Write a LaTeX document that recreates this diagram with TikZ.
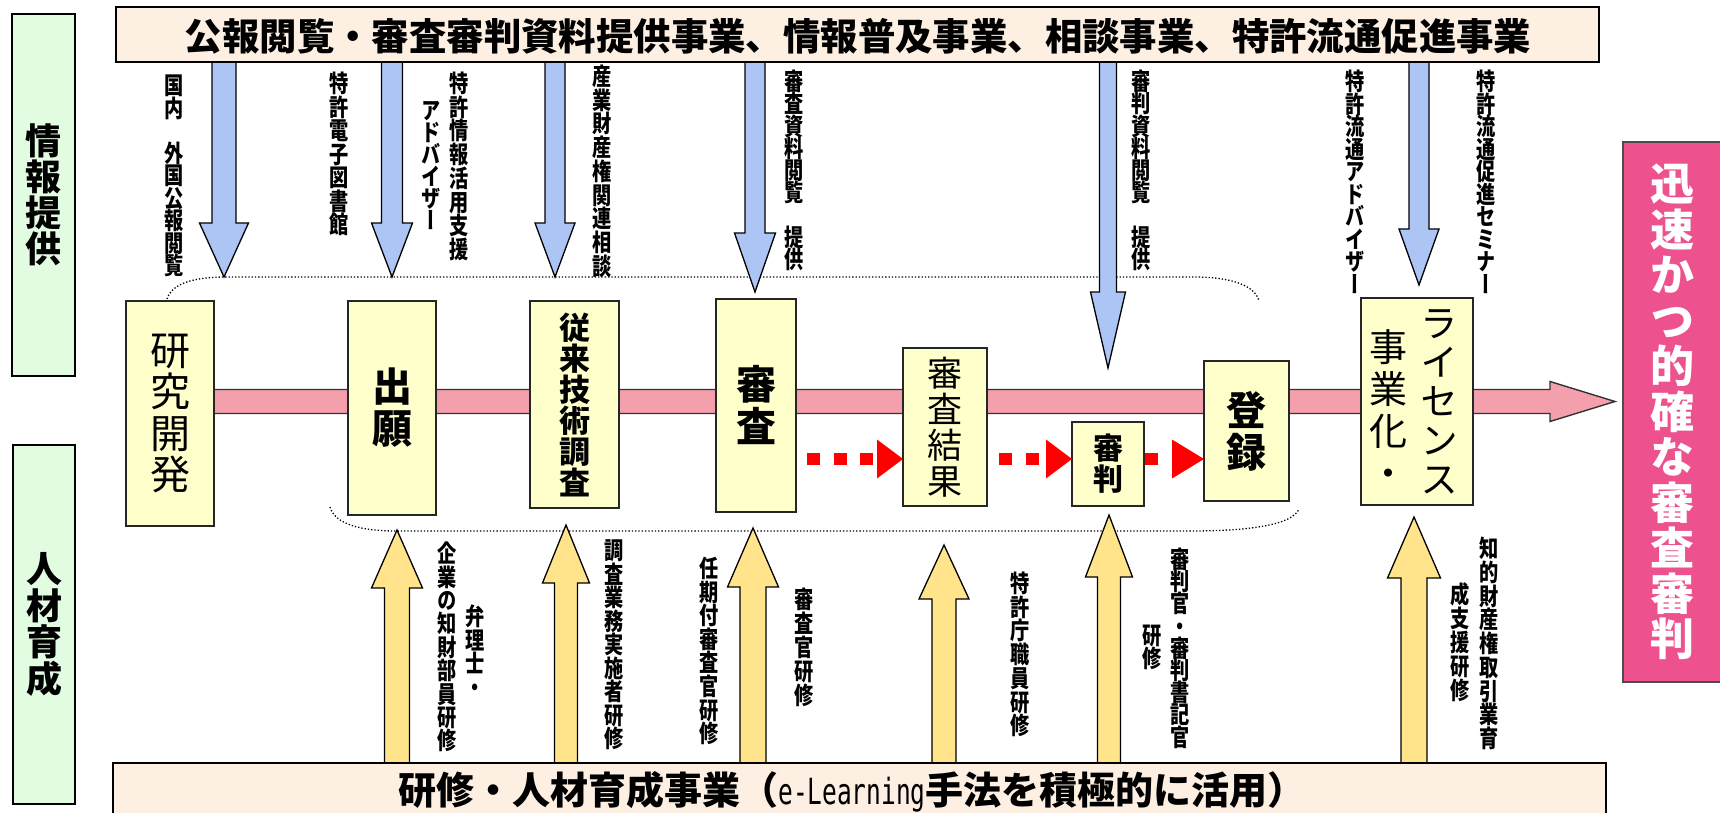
\documentclass[tikz,border=0pt]{standalone}
\usepackage{fontspec}
\setmainfont{Noto Sans CJK JP}
\newfontfamily\jpv{Noto Sans CJK JP}[RawFeature=+vert]
\newfontfamily\jpvc{Noto Sans CJK JP}[RawFeature=+vert, FakeStretch=0.8]
\newfontfamily\monof{DejaVu Sans Mono}[FakeStretch=0.68]
\usetikzlibrary{arrows.meta,calc}
\definecolor{gfill}{RGB}{226,252,226}
\definecolor{bfill}{RGB}{253,239,226}
\definecolor{pfill}{RGB}{255,255,204}
\definecolor{bluef}{RGB}{172,197,245}
\definecolor{yelf}{RGB}{255,228,140}
\definecolor{mainf}{RGB}{243,160,172}
\definecolor{pinkf}{RGB}{238,82,142}
\definecolor{reddash}{RGB}{255,0,0}
\ExplSyntaxOn
\NewDocumentCommand\vstk{mm}{
  \vbox{\baselineskip=#1\lineskiplimit=-\maxdimen\lineskip=0pt
    \tl_map_inline:nn{#2}{\hbox_to_wd:nn{1em}{\hss##1\hss}}}}
\ExplSyntaxOff
\newcommand\blkdn[6]{\filldraw[bluearr] (#1-#2,#4) -- (#1-#2,#5) -- (#1-#3,#5) -- (#1,#6) -- (#1+#3,#5) -- (#1+#2,#5) -- (#1+#2,#4) -- cycle;}
\newcommand\blkup[6]{\filldraw[yelarr] (#1-#2,#6) -- (#1-#2,#5) -- (#1-#3,#5) -- (#1,#4) -- (#1+#3,#5) -- (#1+#2,#5) -- (#1+#2,#6) -- cycle;}
\tikzset{
  every node/.style={inner sep=0pt, outer sep=0pt},
  gbox/.style={draw=black, line width=1.6pt, fill=gfill},
  banner/.style={draw=black, line width=1.8pt, fill=bfill},
  pbox/.style={draw=black!85, line width=1.6pt, fill=pfill},
  pinkbox/.style={draw=black!70, line width=1.4pt, fill=pinkf},
  vlab/.style={anchor=north, font=\jpvc\bfseries\fontsize{24}{24}\selectfont},
  bluearr/.style={draw=black, line width=1.3pt, fill=bluef, line join=miter},
  yelarr/.style={draw=black, line width=1.3pt, fill=yelf, line join=miter},
  mainarr/.style={draw=black!80, line width=1.4pt, fill=mainf, line join=miter},
  dotline/.style={dotted, line width=1.3pt},
  redd/.style={draw=reddash, line width=12pt, -{Triangle[length=26pt,width=39pt,line width=0pt]}},
}
\begin{document}
\begin{tikzpicture}[x=1pt,y=-1pt]
\useasboundingbox (0,0) rectangle (1720,813);

% brace-like dotted curves
\draw[dotline] (167,299) .. controls (172,283) and (195,277) .. (226,277) -- (1194,277) .. controls (1230,277) and (1255,285) .. (1259,301);
\draw[dotline] (330,507) .. controls (335,524) and (360,531) .. (397,531) -- (1190,531) .. controls (1250,531) and (1292,525) .. (1299,509);

% main flow arrow
\filldraw[mainarr] (175,389.5) -- (1550,389.5) -- (1550,381.5) -- (1615,401.5) -- (1550,421.5) -- (1550,413.5) -- (175,413.5) -- cycle;

% process boxes
\node[pbox, minimum width=88, minimum height=225, font=\jpv\fontsize{40}{40}\selectfont] (kenkyu) at (170,413.5) {\vstk{41.5pt}{研究開発}};
\node[pbox, minimum width=88, minimum height=214, font=\jpv\bfseries\fontsize{40}{40}\selectfont] (shutsugan) at (392,408) {\vstk{42pt}{出願}};
\node[pbox, minimum width=89, minimum height=207, font=\jpv\bfseries\fontsize{31}{31}\selectfont] (chosa) at (574.5,404.5) {\vstk{31pt}{従来技術調査}};
\node[pbox, minimum width=80, minimum height=213, font=\jpv\bfseries\fontsize{40}{40}\selectfont] (shinsa) at (756,405.5) {\vstk{42pt}{審査}};
\node[pbox, minimum width=84, minimum height=158, font=\jpv\fontsize{35}{35}\selectfont] (kekka) at (945,427) {\vstk{36pt}{審査結果}};
\node[pbox, minimum width=72, minimum height=84, font=\jpv\bfseries\fontsize{30}{30}\selectfont] (shinpan) at (1108,464) {\vstk{31pt}{審判}};
\node[pbox, minimum width=85, minimum height=140, font=\jpv\bfseries\fontsize{40}{40}\selectfont] (toroku) at (1246.5,431) {\vstk{42pt}{登録}};
\node[pbox, minimum width=112, minimum height=207] (lic) at (1417,401.5) {};
\node[anchor=north, font=\jpv\fontsize{38}{38}\selectfont] (licr) at (1439,310) {\vstk{39pt}{ライセンス}};
\node[anchor=north, font=\jpv\fontsize{38}{38}\selectfont] (licl) at (1388,330) {\vstk{42pt}{事業化・}};

% red dotted arrows
\draw[redd, dash pattern=on 13pt off 13.5pt] ($(shinsa.east|-0,459)+(11,0)$) -- (kekka.west|-0,459);
\draw[redd, dash pattern=on 13pt off 13.5pt] ($(kekka.east|-0,459)+(12,0)$) -- (shinpan.west|-0,459);
\draw[redd, dash pattern=on 13pt off 15pt, -{Triangle[length=32pt,width=39pt,line width=0pt]}] ($(shinpan.east|-0,459)+(1,0)$) -- (toroku.west|-0,459);

% top (information) arrows
\blkdn{224}{12}{24.5}{62}{223}{277}
\blkdn{392}{10.5}{20.5}{62}{223}{277}
\blkdn{555}{10}{20}{62}{223}{277}
\blkdn{755}{10}{20.5}{62}{233}{292}
\blkdn{1108}{8.5}{17.5}{62}{292}{368}
\blkdn{1419}{10}{20}{62}{229}{285}

% bottom (training) arrows
\blkup{397}{12.5}{25.5}{530}{588}{764}
\blkup{566}{11.5}{23.5}{525}{583}{764}
\blkup{753}{13}{25.5}{528}{587}{764}
\blkup{944}{12}{25}{545}{599}{764}
\blkup{1109}{11.5}{23.5}{515}{577}{764}
\blkup{1414}{13}{26.5}{517}{578}{764}

% top labels
\node[vlab] (l1) at (174,75) {\vstk{22.5pt}{国内　外国公報閲覧}};
\node[vlab] (l2) at (339,72) {\vstk{23.5pt}{特許電子図書館}};
\node[vlab] (l3a) at (459,72) {\vstk{23.7pt}{特許情報活用支援}};
\node[vlab] (l3b) at (431,101) {\vstk{22pt}{アドバイザー}};
\node[vlab] (l4) at (602,65) {\vstk{23.7pt}{産業財産権関連相談}};
\node[vlab] (l5) at (794,70) {\vstk{22.3pt}{審査資料閲覧　提供}};
\node[vlab] (l6) at (1141,70) {\vstk{22.3pt}{審判資料閲覧　提供}};
\node[vlab] (l7) at (1355,70) {\vstk{22.5pt}{特許流通アドバイザー}};
\node[vlab] (l8) at (1486,70) {\vstk{22.5pt}{特許流通促進セミナー}};

% bottom labels
\node[vlab] (b1r) at (475,605) {\vstk{23.5pt}{弁理士・}};
\node[vlab] (b1l) at (447,542) {\vstk{23.4pt}{企業の知財部員研修}};
\node[vlab] (b2) at (614,540) {\vstk{23.5pt}{調査業務実施者研修}};
\node[vlab] (b3) at (709,557) {\vstk{23.6pt}{任期付審査官研修}};
\node[vlab] (b4) at (804,588) {\vstk{24pt}{審査官研修}};
\node[vlab] (b5) at (1020,572) {\vstk{23.7pt}{特許庁職員研修}};
\node[vlab] (b6r) at (1180,548) {\vstk{22.2pt}{審判官・審判書記官}};
\node[vlab] (b6l) at (1152,625) {\vstk{23pt}{研修}};
\node[vlab] (b7r) at (1489,537) {\vstk{23.75pt}{知的財産権取引業育}};
\node[vlab] (b7l) at (1460,583) {\vstk{24pt}{成支援研修}};

% side boxes
\node[gbox, minimum width=63, minimum height=362, font=\jpv\bfseries\fontsize{36}{36}\selectfont] (info) at (43.5,195) {\vstk{36pt}{情報提供}};
\node[gbox, minimum width=62, minimum height=359, font=\jpv\bfseries\fontsize{36}{36}\selectfont] (hr) at (44,624.5) {\vstk{36.5pt}{人材育成}};

% banners
\node[banner, anchor=north west, minimum width=1483, minimum height=55] (topb) at (116,7) {};
\node[anchor=base, font=\bfseries\fontsize{37.4}{37.4}\selectfont] (topt) at (858,50.5) {公報閲覧・審査審判資料提供事業、情報普及事業、相談事業、特許流通促進事業};
\node[banner, anchor=north west, minimum width=1493, minimum height=70] (botb) at (113,763) {};
\node[anchor=base, font=\bfseries\fontsize{38}{38}\selectfont] (bott) at (852,804) {研修・人材育成事業（{\monof\mdseries\fontsize{36}{36}\selectfont e-Learning}手法を積極的に活用）};

% goal box
\node[pinkbox, minimum width=98, minimum height=540, text=white, font=\jpv\bfseries\fontsize{44}{44}\selectfont] (goal) at (1672,412) {\vstk{45.5pt}{迅速かつ的確な審査審判}};
\end{tikzpicture}
\end{document}
